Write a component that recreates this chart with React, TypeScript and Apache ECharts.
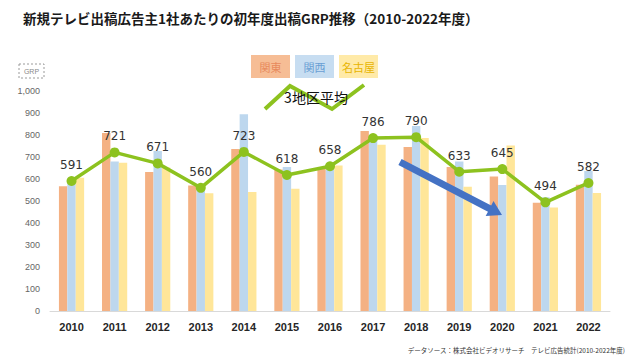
import React, { useEffect, useRef } from "react";
import * as echarts from "echarts";

const years = ["2010","2011","2012","2013","2014","2015","2016","2017","2018","2019","2020","2021","2022"];
const kanto = [567, 809, 632, 571, 736, 643, 648, 818, 745, 655, 611, 492, 574];
const kansai = [600, 679, 727, 574, 894, 655, 665, 784, 841, 679, 573, 517, 636];
const nagoya = [606, 674, 652, 535, 541, 556, 661, 756, 786, 565, 752, 470, 536];
const average = [591, 721, 671, 560, 723, 618, 658, 786, 790, 633, 645, 494, 582];

const seriesNames = ["関東", "関西", "名古屋"];
const avgName = "3地区平均";

export default function App() {
  const ref = useRef<HTMLDivElement>(null);
  useEffect(() => {
    const chart = echarts.init(ref.current!, null, { renderer: "svg" });
    const font = "'Noto Sans CJK JP', 'Noto Sans', sans-serif";
    const barColors = ["#F4B183", "#BDD7EE", "#FFE699"];
    const textColors = ["#E8895C", "#6A9FD4", "#E8B400"];
    const legendX = [251, 295, 339];
    const legendBoxes: any[] = [];
    seriesNames.forEach((n, i) => {
      legendBoxes.push({
        type: "rect",
        shape: { x: legendX[i], y: 55, width: 39, height: 23 },
        style: { fill: barColors[i], opacity: 0.85 },
        z: 10,
      });
      legendBoxes.push({
        type: "text",
        x: legendX[i] + 19.5,
        y: 66.5,
        style: { text: n, fill: textColors[i], font: `11px ${font}`, align: "center", verticalAlign: "middle" },
        z: 11,
      });
    });
    const ux = 0.887, uy = 0.461, nx = -0.461, ny = 0.887;
    const S = [400, 162], T = [502, 215];
    const B = [T[0] - 14 * ux, T[1] - 14 * uy];
    const hw = 3.5, hh = 8.5;
    const arrow = [
      [S[0] + hw * nx, S[1] + hw * ny],
      [B[0] + hw * nx, B[1] + hw * ny],
      [B[0] + hh * nx, B[1] + hh * ny],
      T,
      [B[0] - hh * nx, B[1] - hh * ny],
      [B[0] - hw * nx, B[1] - hw * ny],
      [S[0] - hw * nx, S[1] - hw * ny],
    ];
    chart.setOption({
      animation: false,
      backgroundColor: "#ffffff",
      grid: { left: 50, right: 30, top: 91, bottom: 49 },
      xAxis: {
        type: "category",
        data: years,
        axisLine: { lineStyle: { color: "#d9d9d9" } },
        axisTick: { show: false },
        axisLabel: { color: "#262626", fontWeight: "bold", fontSize: 11, margin: 10, fontFamily: "Liberation Sans, Arial, sans-serif" },
      },
      yAxis: {
        type: "value",
        min: 0,
        max: 1000,
        interval: 100,
        axisLine: { show: false },
        axisTick: { show: false },
        splitLine: { show: false },
        axisLabel: {
          color: "#666666",
          fontSize: 9,
          margin: 10,
          fontFamily: "Liberation Sans, Arial, sans-serif",
          formatter: (v: number) => v.toLocaleString("en-US"),
        },
      },
      series: [
        { name: seriesNames[0], type: "bar", data: kanto, barWidth: 8.4, barGap: "0%", itemStyle: { color: barColors[0] } },
        { name: seriesNames[1], type: "bar", data: kansai, barWidth: 8.4, barGap: "0%", itemStyle: { color: barColors[1] } },
        { name: seriesNames[2], type: "bar", data: nagoya, barWidth: 8.4, barGap: "0%", itemStyle: { color: barColors[2] } },
        {
          name: avgName,
          type: "line",
          data: average,
          z: 5,
          symbol: "circle",
          symbolSize: 10,
          lineStyle: { color: "#8DC21F", width: 3.5 },
          itemStyle: { color: "#8DC21F" },
          label: {
            show: true,
            position: "top",
            distance: 5,
            color: "#333333",
            fontSize: 12,
            fontFamily: "DejaVu Sans, sans-serif",
          },
        },
      ],
      graphic: [
        {
          type: "text",
          x: 23,
          y: 18,
          style: {
            text: "新規テレビ出稿広告主1社あたりの初年度出稿GRP推移（2010-2022年度）",
            fill: "#1a1a1a",
            font: `bold 13.5px ${font}`,
            verticalAlign: "middle",
          },
        },
        {
          type: "rect",
          shape: { x: 19, y: 64, width: 25, height: 14 },
          style: { fill: "none", stroke: "#9a9a9a", lineWidth: 1, lineDash: [2, 2] },
        },
        {
          type: "text",
          x: 31.5,
          y: 71,
          style: { text: "GRP", fill: "#8a8a8a", font: `7px Liberation Sans, sans-serif`, align: "center", verticalAlign: "middle" },
        },
        ...legendBoxes,
        {
          type: "polyline",
          shape: { points: [[265, 109], [290, 86], [332, 109], [364, 85]] },
          style: { stroke: "#8DC21F", lineWidth: 4, fill: "none" },
          z: 10,
        },
        {
          type: "text",
          x: 316,
          y: 97,
          style: { text: avgName, fill: "#111111", font: `14px ${font}`, align: "center", verticalAlign: "middle" },
          z: 11,
        },
        {
          type: "polygon",
          shape: { points: arrow },
          style: { fill: "#4472C4" },
          z: 20,
        },
        {
          type: "text",
          x: 625,
          y: 350,
          style: {
            text: "データソース：株式会社ビデオリサーチ　テレビ広告統計(2010-2022年度)",
            fill: "#333333",
            font: `6.5px ${font}`,
            align: "right",
            verticalAlign: "middle",
          },
        },
      ],
    });
    return () => chart.dispose();
  }, []);
  return <div ref={ref} style={{ position: "fixed", left: 0, top: 0, width: 640, height: 360 }} />;
}
